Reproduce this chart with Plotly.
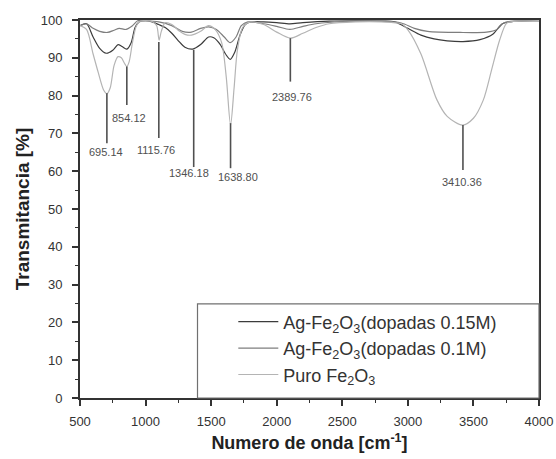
import plotly.graph_objects as go

# ---------------- data ----------------
wn_015 = [500, 550, 600, 650, 700, 750, 790, 820, 857, 890, 920, 950, 1000, 1050, 1100,
          1150, 1200, 1250, 1300, 1360, 1420, 1480, 1520, 1570, 1610, 1645, 1680, 1720,
          1760, 1800, 1900, 2000, 2100, 2200, 2400, 2600, 2800, 2900, 3000, 3100, 3200,
          3300, 3420, 3550, 3650, 3720, 3800, 4000]
t_015 = [98.5, 99.0, 95.5, 92.5, 91.2, 92.0, 93.5, 93.0, 92.3, 94.0, 98.0, 99.5, 99.8, 99.5, 98.8,
         98.0, 96.5, 94.5, 92.8, 92.3, 93.5, 95.5, 95.3, 93.5, 91.0, 89.6, 91.5, 96.0,
         98.8, 99.5, 99.5, 99.3, 99.0, 99.3, 99.7, 99.8, 99.7, 99.5, 97.8, 96.0, 95.0,
         94.5, 94.3, 94.8, 96.3, 99.0, 99.6, 99.6]

wn_010 = [500, 550, 600, 650, 710, 760, 800, 850, 900, 940, 1000, 1100, 1200, 1280, 1350,
          1420, 1480, 1540, 1600, 1645, 1690, 1730, 1780, 1900, 2000, 2100, 2200, 2300,
          2500, 2800, 2950, 3050, 3150, 3400, 3600, 3680, 3730, 3800, 4000]
t_010 = [98.5, 99.0, 97.8, 97.0, 96.7, 97.3, 97.8, 97.5, 98.5, 99.8, 99.8, 99.5, 98.5, 97.0, 96.8,
         97.8, 98.2, 97.5, 95.5, 94.0, 95.5, 98.5, 99.5, 99.0, 98.3, 97.5, 98.3, 99.0,
         99.6, 99.7, 99.2, 97.8, 97.0, 96.7, 96.8, 97.5, 99.2, 99.7, 99.7]

wn_puro = [500, 550, 600, 640, 680, 705, 730, 760, 790, 815, 840, 857, 875, 900, 930, 960,
           1050, 1085, 1103, 1120, 1150, 1200, 1260, 1300, 1350, 1420, 1480, 1530, 1580,
           1615, 1648, 1675, 1700, 1740, 1800, 1900, 2000, 2104, 2200, 2300, 2400, 2600,
           2800, 2950, 3000, 3100, 3220, 3300, 3418, 3500, 3575, 3640, 3700, 3752, 3800, 4000]
t_puro = [98.5, 97.5, 91.0, 86.0, 81.5, 80.5, 82.0, 88.0, 90.3, 90.0, 88.5, 87.7, 89.0, 94.0, 98.5, 99.7,
          99.6, 98.5, 94.7, 97.0, 99.3, 98.8, 97.0, 96.2, 96.0, 97.0, 98.5, 97.5, 94.0,
          85.0, 72.2, 82.0, 92.0, 98.0, 99.5, 98.8, 96.8, 95.2, 96.5, 98.0, 99.0, 99.5,
          99.5, 99.0, 97.4, 91.0, 79.0, 74.5, 72.2, 74.0, 78.8, 87.0, 94.7, 99.1, 99.6, 99.6]

series_names = ["Ag-Fe<sub>2</sub>O<sub>3</sub>(dopadas 0.15M)",
                "Ag-Fe<sub>2</sub>O<sub>3</sub>(dopadas 0.1M)",
                "Puro Fe<sub>2</sub>O<sub>3</sub>"]

peak_labels = ["695.14", "854.12", "1115.76", "1346.18", "1638.80", "2389.76", "3410.36"]
peak_x = [705, 857, 1101, 1367, 1648, 2104, 3420]
peak_top = [80.6, 87.7, 94.2, 92.1, 72.7, 95.2, 72.2]
peak_bottom = [67.4, 77.5, 68.8, 61.1, 60.8, 83.7, 60.3]
label_x = [698, 876, 1078, 1329, 1701, 2120, 3412]
label_y = [65.0, 74.0, 65.6, 59.6, 58.4, 79.6, 57.1]

x_ticks = [500, 1000, 1500, 2000, 2500, 3000, 3500, 4000]
y_ticks = [0, 10, 20, 30, 40, 50, 60, 70, 80, 90, 100]

# ---------------- figure ----------------
colors = ["#3c3c3c", "#7e7e7e", "#b4b4b4"]
FONT = "Liberation Sans, Arial, sans-serif"

fig = go.Figure()
for xs, ys, name, col in zip([wn_015, wn_010, wn_puro], [t_015, t_010, t_puro], series_names, colors):
    fig.add_trace(go.Scatter(x=xs, y=ys, name=name, mode="lines",
                             line=dict(color=col, width=1.2, shape="spline", smoothing=0.8)))

shapes = []
for px, y0, y1 in zip(peak_x, peak_top, peak_bottom):
    shapes.append(dict(type="line", xref="x", yref="y", x0=px, x1=px, y0=y0, y1=y1,
                       line=dict(color="#505050", width=1.6)))
# legend frame
shapes.append(dict(type="rect", xref="paper", yref="paper", x0=0.256, x1=1.0, y0=0.0, y1=0.249,
                   line=dict(color="#707070", width=1.2), fillcolor="rgba(0,0,0,0)", layer="above"))

annotations = []
for txt, lx, ly in zip(peak_labels, label_x, label_y):
    annotations.append(dict(x=lx, y=ly, xref="x", yref="y", text=txt, showarrow=False,
                            font=dict(size=11, color="#505050", family=FONT)))

fig.update_layout(
    width=556, height=459,
    margin=dict(l=80, r=17, t=20, b=61),
    paper_bgcolor="white", plot_bgcolor="white",
    font=dict(family=FONT, color="#333333"),
    shapes=shapes, annotations=annotations,
    showlegend=True,
    legend=dict(x=0.334, xanchor="left", y=0.250, yanchor="top",
                bgcolor="rgba(0,0,0,0)", borderwidth=0,
                font=dict(size=18, color="#333333", family=FONT),
                itemwidth=40, tracegroupgap=0),
    xaxis=dict(range=[500, 4000], tickvals=x_ticks, ticks="outside", ticklen=6, tickwidth=1.5,
               tickcolor="#333", showline=True, linewidth=2, linecolor="#333", mirror=True,
               showgrid=False, zeroline=False, tickfont=dict(size=13, color="#333"),
               ticklabelstandoff=4, automargin=False,
               minor=dict(dtick=250, ticks="outside", ticklen=3, tickwidth=1.2, tickcolor="#333"),
               title=dict(text="<b>Numero de onda [cm<sup>-1</sup>]</b>",
                          font=dict(size=18, color="#222"), standoff=9)),
    yaxis=dict(range=[0, 100], tickvals=y_ticks, ticks="outside", ticklen=6, tickwidth=1.5,
               tickcolor="#333", showline=True, linewidth=2, linecolor="#333", mirror=True,
               showgrid=False, zeroline=False, tickfont=dict(size=13, color="#333"),
               ticklabelstandoff=7, automargin=False,
               minor=dict(dtick=5, ticks="outside", ticklen=3, tickwidth=1.2, tickcolor="#333"),
               title=dict(text="<b>Transmitancia [%]</b>",
                          font=dict(size=19, color="#222"), standoff=6)),
)

fig.write_html("out.html")
